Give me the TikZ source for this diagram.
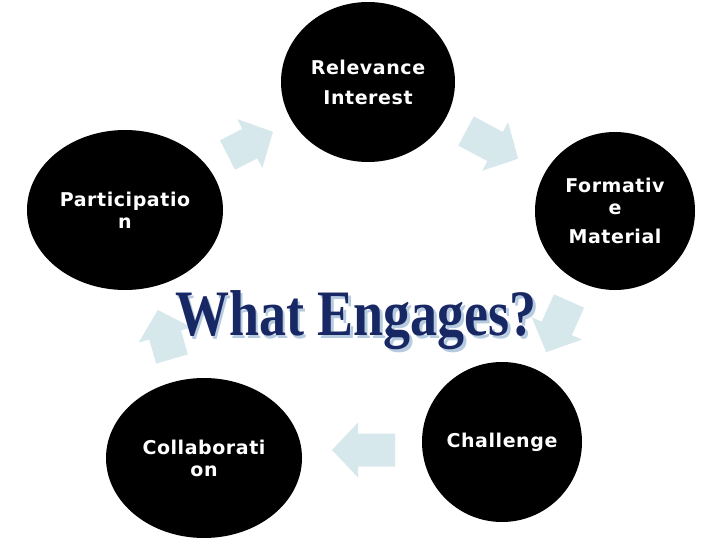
\documentclass[tikz,border=0pt]{standalone}
\usepackage{fontspec}
\setmainfont{Liberation Serif}
\newfontfamily\lblfont[LetterSpace=3]{DejaVu Sans Bold}
\usetikzlibrary{shapes.geometric}
\definecolor{arrowblue}{RGB}{214,232,236}
\definecolor{navy}{RGB}{24,40,100}
\definecolor{shadowblue}{RGB}{182,202,224}
\newcommand{\blockarrow}[4]{%
  \begin{scope}[shift={(#1,#2)},rotate=#3]
    \fill[arrowblue] (0,-16.5) -- (#4,-16.5) -- (#4,-27.5) -- ({#4+26},0) -- (#4,27.5) -- (#4,16.5) -- (0,16.5) -- cycle;
  \end{scope}}
\newcommand{\shadowed}[1]{{\color{shadowblue}\rlap{\kern2.5pt\raisebox{-2.5pt}{#1}}}{\color{navy}#1}}
\tikzset{
  blob/.style={ellipse, fill=black, text=white, inner sep=0pt, align=center,
    font=\lblfont\fontsize{19}{22}\selectfont},
  titletext/.style={font=\bfseries\fontsize{54}{60}\selectfont, yscale=1.2, transform shape, anchor=base, inner sep=0pt}
}
\begin{document}
\begin{tikzpicture}[x=1pt,y=-1pt]
  \useasboundingbox[fill=white] (0,0) rectangle (720,540);
  % block arrows
  \blockarrow{227.5}{155}{27}{25}
  \blockarrow{466}{131}{-28}{33}
  \blockarrow{569}{301}{-114}{30}
  \blockarrow{395}{450}{180}{37}
  \blockarrow{172}{359}{106}{25}
  % ellipses
  \node[blob, minimum width=174pt, minimum height=160pt] (rel) at (368,82) {Relevance\\[8pt]Interest};
  \node[blob, minimum width=196pt, minimum height=160pt] (par) at (125,210) {Participatio\\n};
  \node[blob, minimum width=160pt, minimum height=158pt] (for) at (615,211) {Formativ\\e\\[7pt]Material};
  \node[blob, minimum width=160pt, minimum height=160pt] (cha) at (502,442) {Challenge};
  \node[blob, minimum width=196pt, minimum height=160pt] (col) at (204,458) {Collaborati\\on};
  % title
  \node[titletext] (title) at (356,335) {\shadowed{What Engages?}};
\end{tikzpicture}
\end{document}
